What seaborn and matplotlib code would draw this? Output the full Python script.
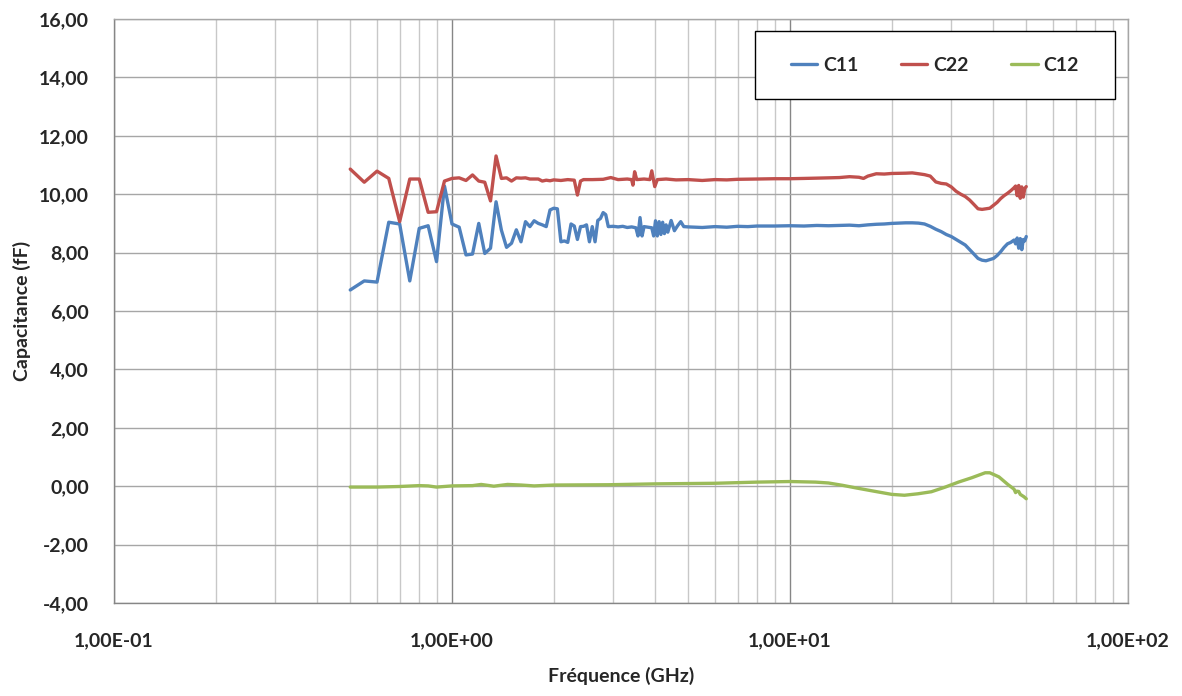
import numpy as np
import pandas as pd
import matplotlib
matplotlib.use("Agg")
import matplotlib.pyplot as plt
import matplotlib.ticker as mticker
from matplotlib.patches import Rectangle
import seaborn as sns

# --- data (frequency in GHz, capacitance in fF) ---
c11_freq = [0.50, 0.55, 0.60, 0.65, 0.70, 0.75, 0.80, 0.85, 0.90, 0.95,
            1.00, 1.05, 1.10, 1.15, 1.20, 1.25, 1.30, 1.35, 1.40, 1.45,
            1.50, 1.55, 1.60, 1.65, 1.70, 1.75, 1.80, 1.85, 1.90, 1.95,
            2.00, 2.05, 2.10, 2.15, 2.20, 2.25, 2.30, 2.35, 2.40, 2.45,
            2.50, 2.55, 2.60, 2.65, 2.70, 2.75, 2.80, 2.85, 2.90, 3.00,
            3.10, 3.20, 3.30, 3.40, 3.50, 3.55, 3.60, 3.65, 3.70, 3.80,
            3.90, 3.95, 4.00, 4.05, 4.10, 4.15, 4.20, 4.25, 4.30, 4.35,
            4.45, 4.55, 4.65, 4.75, 4.85, 5.0, 5.5, 6.0, 6.5, 7.0,
            7.5, 8.0, 9.0, 10, 11, 12, 13, 14, 15, 16,
            17, 18, 19, 20, 21, 22, 23, 24, 25, 26,
            27, 28, 29, 30, 31, 32, 33, 34, 35, 36,
            37, 38, 39, 40, 41, 42, 43, 44, 45, 46,
            46.5, 47, 47.5, 48, 48.5, 49, 49.5, 50]
c11_vals = [6.72, 7.03, 6.99, 9.04, 8.98, 7.03, 8.83, 8.92, 7.69, 10.28,
            8.98, 8.87, 7.92, 7.95, 9.00, 7.97, 8.15, 9.74, 8.77, 8.18,
            8.32, 8.78, 8.37, 9.06, 8.89, 9.09, 9.00, 8.95, 8.89, 9.46,
            9.52, 9.50, 8.37, 8.40, 8.35, 8.98, 8.91, 8.45, 8.89, 8.90,
            8.95, 8.37, 8.89, 8.37, 9.10, 9.17, 9.37, 9.30, 8.89, 8.90,
            8.88, 8.90, 8.86, 8.88, 8.85, 8.57, 9.20, 8.57, 8.89, 8.87,
            8.85, 8.57, 9.09, 8.57, 9.06, 8.62, 9.04, 8.65, 8.95, 8.70,
            9.10, 8.75, 8.92, 9.06, 8.89, 8.88, 8.86, 8.89, 8.87, 8.90,
            8.89, 8.91, 8.91, 8.92, 8.91, 8.93, 8.92, 8.93, 8.94, 8.92,
            8.95, 8.97, 8.98, 9.00, 9.01, 9.02, 9.02, 9.01, 8.98, 8.90,
            8.80, 8.72, 8.62, 8.55, 8.45, 8.35, 8.26, 8.10, 7.95, 7.80,
            7.74, 7.72, 7.76, 7.80, 7.90, 8.03, 8.18, 8.30, 8.35, 8.43,
            8.30, 8.50, 8.15, 8.48, 8.10, 8.45, 8.40, 8.55]

c22_freq = [0.50, 0.55, 0.60, 0.65, 0.70, 0.75, 0.80, 0.85, 0.90, 0.95,
            1.00, 1.05, 1.10, 1.15, 1.20, 1.25, 1.30, 1.35, 1.40, 1.45,
            1.50, 1.55, 1.60, 1.65, 1.70, 1.75, 1.80, 1.85, 1.90, 1.95,
            2.0, 2.1, 2.2, 2.3, 2.35, 2.40, 2.45, 2.6, 2.8, 2.95,
            3.1, 3.3, 3.40, 3.43, 3.47, 3.52, 3.7, 3.85, 3.90, 3.98,
            4.05, 4.3, 4.6, 5.0, 5.5, 6.0, 6.5, 7.0, 8.0, 9.0,
            10, 11, 12, 13, 14, 15, 16, 16.5, 17, 18,
            19, 20, 22, 23, 24, 25, 26, 27, 28, 29,
            30, 31, 32, 33, 34, 35, 36, 37, 38, 39,
            40, 41, 42, 43, 44, 45, 46, 46.5, 47, 47.5,
            48, 48.5, 49, 49.5, 50]
c22_vals = [10.86, 10.41, 10.79, 10.54, 9.06, 10.52, 10.52, 9.38, 9.40, 10.45,
            10.54, 10.56, 10.47, 10.66, 10.45, 10.41, 9.77, 11.31, 10.54, 10.56,
            10.45, 10.56, 10.55, 10.56, 10.52, 10.52, 10.52, 10.45, 10.48, 10.46,
            10.49, 10.47, 10.50, 10.48, 9.97, 10.45, 10.50, 10.50, 10.51, 10.57,
            10.50, 10.52, 10.50, 10.31, 10.77, 10.50, 10.52, 10.50, 10.80, 10.26,
            10.50, 10.52, 10.49, 10.50, 10.47, 10.50, 10.49, 10.51, 10.52, 10.53,
            10.53, 10.54, 10.55, 10.56, 10.57, 10.60, 10.58, 10.54, 10.62, 10.70,
            10.69, 10.71, 10.72, 10.73, 10.70, 10.67, 10.62, 10.42, 10.37, 10.35,
            10.25, 10.10, 10.00, 9.92, 9.80, 9.65, 9.50, 9.48, 9.50, 9.52,
            9.62, 9.72, 9.85, 9.95, 10.03, 10.12, 10.22, 10.28, 9.95, 10.30,
            9.86, 10.25, 9.90, 10.20, 10.26]

c12_freq = [0.5, 0.6, 0.7, 0.8, 0.85, 0.9, 1.0, 1.15, 1.22, 1.33,
            1.46, 1.6, 1.75, 2.0, 2.9, 4.0, 6.0, 8.0, 10, 11.9,
            13, 14.3, 15.7, 17.7, 20, 21.8, 23.9, 26.2, 28.8, 31.5,
            34.5, 37.8, 39, 41.5, 44.1, 46.0, 46.5, 46.9, 47.5, 48,
            49.2, 50]
c12_vals = [-0.03, -0.03, -0.01, 0.02, 0.01, -0.03, 0.01, 0.02, 0.06, 0.00,
            0.06, 0.04, 0.01, 0.04, 0.05, 0.08, 0.10, 0.14, 0.16, 0.14,
            0.11, 0.03, -0.06, -0.17, -0.28, -0.31, -0.26, -0.19, -0.03, 0.14,
            0.29, 0.46, 0.46, 0.32, 0.06, -0.10, -0.22, -0.17, -0.18, -0.28,
            -0.36, -0.43]

series_names = ["C11", "C22", "C12"]
series_colors = ["#4F81BD", "#C0504D", "#9BBB59"]

df = pd.concat([
    pd.DataFrame({"freq": c11_freq, "cap": c11_vals, "serie": "C11"}),
    pd.DataFrame({"freq": c22_freq, "cap": c22_vals, "serie": "C22"}),
    pd.DataFrame({"freq": c12_freq, "cap": c12_vals, "serie": "C12"}),
])

sns.set_style("white")
plt.rcParams["font.family"] = ["Lato", "DejaVu Sans"]
plt.rcParams["font.weight"] = "bold"

fig = plt.figure(figsize=(11.82, 6.96), dpi=100)
ax = fig.add_axes([114 / 1182, 1 - 603 / 696, 1014 / 1182, 584 / 696])

sns.lineplot(data=df, x="freq", y="cap", hue="serie", hue_order=series_names,
             palette=series_colors, estimator=None, sort=False,
             linewidth=2.4, ax=ax, legend=False)

ax.set_xscale("log")
ax.set_xlim(0.1, 100)
ax.set_ylim(-4, 16)
ax.set_yticks(np.arange(-4, 17, 2))
ax.yaxis.set_major_formatter(mticker.FuncFormatter(
    lambda v, p: f"{v:.2f}".replace(".", ",")))
ax.xaxis.set_major_locator(mticker.LogLocator(base=10, numticks=10))
ax.xaxis.set_minor_locator(mticker.LogLocator(base=10, subs=np.arange(2, 10), numticks=20))
ax.xaxis.set_major_formatter(mticker.FuncFormatter(
    lambda v, p: "1,00E{:+03d}".format(int(round(np.log10(v))))))
ax.xaxis.set_minor_formatter(mticker.NullFormatter())

# excel-like grid
ax.grid(True, which="major", axis="y", color="#A6A6A6", linewidth=1)
ax.grid(True, which="major", axis="x", color="#868686", linewidth=1)
ax.grid(True, which="minor", axis="x", color="#C8C8C8", linewidth=1)
ax.set_axisbelow(True)
for s in ax.spines.values():
    s.set_color("#A6A6A6")
    s.set_linewidth(1)
ax.spines["left"].set_color("#868686")
ax.spines["bottom"].set_color("#868686")

ax.tick_params(axis="both", which="both", length=0, labelsize=14)
ax.tick_params(axis="x", pad=21)
ax.tick_params(axis="y", pad=18)
for lbl in ax.get_xticklabels() + ax.get_yticklabels():
    lbl.set_fontweight("bold")

ax.set_xlabel("Fréquence (GHz)", fontsize=14, fontweight="bold", labelpad=13)
ax.set_ylabel("Capacitance (fF)", fontsize=14, fontweight="bold", labelpad=6)

# legend box (excel style: square frame, entries centred inside)
box = (0.632, 0.863, 0.355, 0.116)
ax.add_patch(Rectangle(box[:2], box[2], box[3], transform=ax.transAxes,
                       facecolor="white", edgecolor="black", linewidth=1, zorder=5))
handles = [plt.Line2D([], [], color=c, linewidth=2.4) for c in series_colors]
leg = ax.legend(handles, series_names, ncol=3, loc="center",
                bbox_to_anchor=(box[0] + box[2] / 2, box[1] + box[3] / 2),
                frameon=False, handlelength=1.35, handletextpad=0.3,
                columnspacing=2.2, borderaxespad=0,
                prop={"size": 14, "weight": "bold"})
leg.set_zorder(6)

plt.savefig("out.png", dpi=100)
